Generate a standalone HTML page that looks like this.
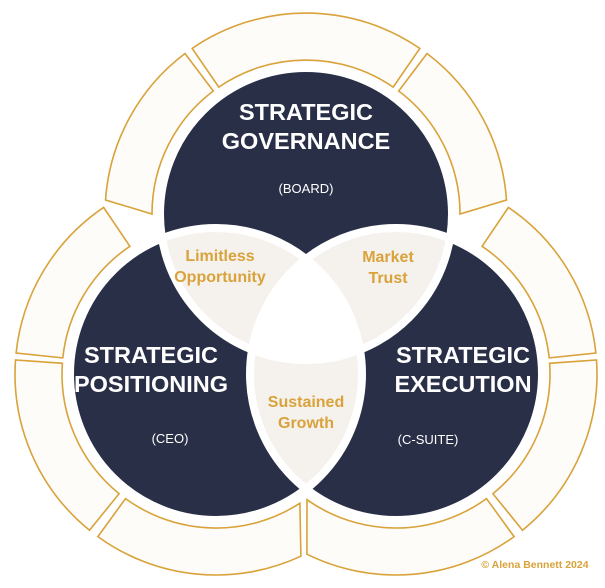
<!DOCTYPE html>
<html><head><style>body{margin:0;background:#fff}svg{display:block}text{font-family:"Liberation Sans",sans-serif}</style></head><body>
<svg width="605" height="588" viewBox="0 0 605 588" xmlns="http://www.w3.org/2000/svg">
<defs>
<clipPath id="ct"><circle cx="306" cy="214" r="146"/></clipPath>
<clipPath id="cl"><circle cx="216" cy="374" r="146"/></clipPath>
</defs>
<g id="segs" fill="#fdfcf9" stroke="#d9a23a" stroke-width="1.6"></g>
<circle cx="306" cy="214" r="146" fill="#2a2f48"/>
<circle cx="216" cy="374" r="146" fill="#2a2f48"/>
<circle cx="396" cy="374" r="146" fill="#2a2f48"/>
<g clip-path="url(#ct)"><circle cx="216" cy="374" r="146" fill="#f5f2ee"/><circle cx="396" cy="374" r="146" fill="#f5f2ee"/></g>
<g clip-path="url(#cl)"><circle cx="396" cy="374" r="146" fill="#f5f2ee"/></g>
<g clip-path="url(#ct)"><g clip-path="url(#cl)"><circle cx="396" cy="374" r="146" fill="#fff"/></g></g>
<g fill="none" stroke="#fff" stroke-width="8">
<circle cx="306" cy="214" r="146"/><circle cx="216" cy="374" r="146"/><circle cx="396" cy="374" r="146"/>
</g>
<g fill="#fff" font-weight="bold" font-size="23.5" text-anchor="middle">
<text x="306" y="120">STRATEGIC</text><text x="306" y="149">GOVERNANCE</text>
<text x="151" y="363">STRATEGIC</text><text x="151" y="392">POSITIONING</text>
<text x="463" y="363">STRATEGIC</text><text x="463" y="392">EXECUTION</text>
</g>
<g fill="#fff" font-size="13" text-anchor="middle">
<text x="306" y="193">(BOARD)</text><text x="170" y="443">(CEO)</text><text x="428" y="444">(C-SUITE)</text>
</g>
<g fill="#d9a23a" font-weight="bold" font-size="16" text-anchor="middle">
<text x="220" y="261">Limitless</text><text x="220" y="282">Opportunity</text>
<text x="388" y="262">Market</text><text x="388" y="283">Trust</text>
<text x="306" y="407">Sustained</text><text x="306" y="428">Growth</text>
</g>
<text x="535" y="568" fill="#d9a23a" font-weight="bold" font-size="10.5" text-anchor="middle">© Alena Bennett 2024</text>
</svg>
<script>
(function(){
var g=document.getElementById('segs');
var ri=154,ro=201;
var defs=[[306,214,-86,-37,-37,-90],[306,214,-34.5,34.5,34.5,-34.5],[306,214,37,86,90,37],
[216,374,-84,-34,-34,-84],[216,374,-141,-86,-86,-141],[216,374,155,216,216,147],
[396,374,34,84,84,34],[396,374,86,141,141,86],[396,374,144,206.3,215.3,144]];
function p(cx,cy,r,a){a=a*Math.PI/180;return (cx+r*Math.sin(a)).toFixed(1)+' '+(cy-r*Math.cos(a)).toFixed(1);}
defs.forEach(function(d){
var cx=d[0],cy=d[1];
var s='M'+p(cx,cy,ro,d[2])+' A'+ro+' '+ro+' 0 0 1 '+p(cx,cy,ro,d[3])+' L'+p(cx,cy,ri,d[4])+' A'+ri+' '+ri+' 0 0 0 '+p(cx,cy,ri,d[5])+' Z';
var e=document.createElementNS('http://www.w3.org/2000/svg','path');e.setAttribute('d',s);g.appendChild(e);
});
})();
</script>
</body></html>
